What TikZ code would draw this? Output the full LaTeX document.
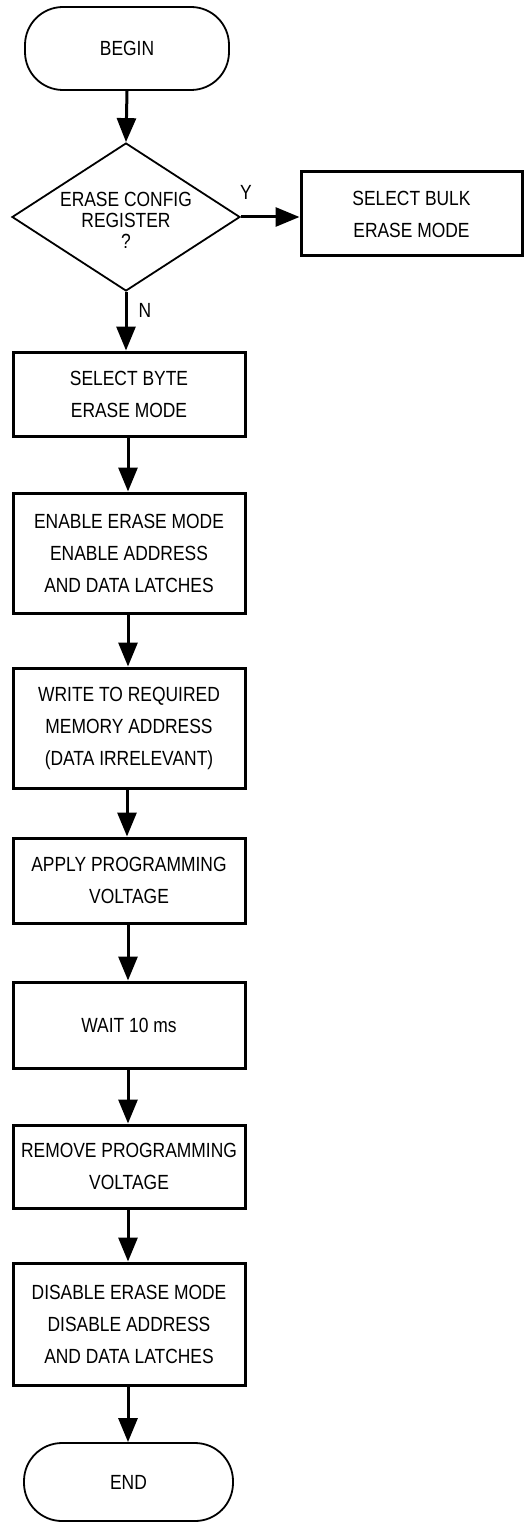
\documentclass[tikz,border=0pt]{standalone}
\usepackage{fontspec}
\setmainfont{Liberation Sans}[FakeStretch=0.85]
\usetikzlibrary{shapes.geometric,arrows.meta}
\tikzset{
  txt/.style={font=\fontsize{20.5}{32}\selectfont, align=center},
  procbox/.style={draw, line width=3pt, rectangle, inner sep=0pt, txt},
  term/.style={draw, line width=1.8pt, rectangle, rounded corners=38pt, inner sep=0pt, txt},
  flow/.style={line width=3pt, -{Triangle[length=24pt,width=19pt]}},
  lbl/.style={font=\fontsize{20.5}{24}\selectfont, inner sep=0pt}
}
\begin{document}
\begin{tikzpicture}[x=1pt,y=-1pt]
\useasboundingbox (0,0) rectangle (532,1522);
\node[term, minimum width=204pt, minimum height=83pt] (begin) at (127,48.5) {BEGIN};
\node[diamond, draw, line width=1.8pt, minimum width=228pt, minimum height=148pt, inner sep=0pt] (dec) at (126,217) {};
\node[txt, font=\fontsize{20.5}{21}\selectfont, inner sep=0pt] (dectext) at (126,220) {ERASE CONFIG\\REGISTER\\?};
\node[procbox, minimum width=221pt, minimum height=84pt] (bulk) at (411.5,214) {SELECT BULK\\ERASE MODE};
\node[procbox, minimum width=232pt, minimum height=84pt] (byte) at (129,394) {SELECT BYTE\\ERASE MODE};
\node[procbox, minimum width=232pt, minimum height=120pt] (enable) at (129,553) {ENABLE ERASE MODE\\ENABLE ADDRESS\\AND DATA LATCHES};
\node[procbox, minimum width=232pt, minimum height=120pt] (write) at (129,728) {WRITE TO REQUIRED\\MEMORY ADDRESS\\(DATA IRRELEVANT)};
\node[procbox, minimum width=232pt, minimum height=85pt] (apply) at (129,880.5) {APPLY PROGRAMMING\\VOLTAGE};
\node[procbox, minimum width=232pt, minimum height=86pt] (wait) at (129,1025) {WAIT 10 ms};
\node[procbox, minimum width=232pt, minimum height=83pt] (remove) at (129,1166.5) {REMOVE PROGRAMMING\\VOLTAGE};
\node[procbox, minimum width=232pt, minimum height=122pt] (disable) at (129,1324) {DISABLE ERASE MODE\\DISABLE ADDRESS\\AND DATA LATCHES};
\node[term, minimum width=209pt, minimum height=78pt] (end) at (128.5,1482) {END};
\node[lbl] (ylbl) at (246,192) {Y};
\node[lbl] (nlbl) at (145,310) {N};
\draw[flow] (begin.south -| 127,0) -- (dec.north);
\draw[flow] (dec.east) -- (dec.east -| bulk.west);
\draw[flow] (dec.south) -- (dec.south |- byte.north);
\draw[flow] (byte.south -| 128,0) -- (enable.north -| 128,0);
\draw[flow] (enable.south -| 128,0) -- (write.north -| 128,0);
\draw[flow] (write.south -| 127,0) -- (apply.north -| 127,0);
\draw[flow] (apply.south -| 128,0) -- (wait.north -| 128,0);
\draw[flow] (wait.south -| 128,0) -- (remove.north -| 128,0);
\draw[flow] (remove.south -| 128,0) -- (disable.north -| 128,0);
\draw[flow] (disable.south -| 128,0) -- (end.north -| 128,0);
\end{tikzpicture}
\end{document}
